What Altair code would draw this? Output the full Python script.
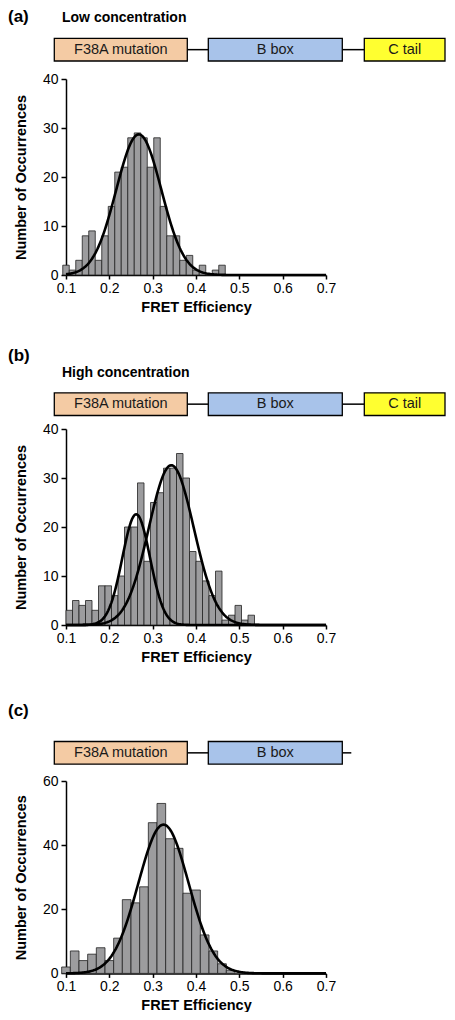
import altair as alt
import pandas as pd

# ---------------- data ----------------
# histogram bin centres and counts
a_centers = [0.100, 0.115, 0.130, 0.145, 0.160, 0.175, 0.190, 0.205, 0.220, 0.235,
             0.250, 0.265, 0.280, 0.295, 0.310, 0.325, 0.340, 0.355, 0.370, 0.385,
             0.400, 0.415, 0.430, 0.445, 0.460]
a_counts = [2, 1, 3, 8, 9, 3, 8, 14, 21, 22, 28, 29, 28, 22, 28, 14, 8, 8, 3, 4, 1, 2, 0, 1, 2]
a_bin_width = 0.015

b_centers = [0.1075, 0.1225, 0.1375, 0.1525, 0.1675, 0.1825, 0.1975, 0.2125, 0.2275, 0.2425,
             0.2575, 0.2725, 0.2875, 0.3025, 0.3175, 0.3325, 0.3475, 0.3625, 0.3775, 0.3925,
             0.4075, 0.4225, 0.4375, 0.4525, 0.4675, 0.4825, 0.4975, 0.5125, 0.5275]
b_counts = [3, 5, 4, 5, 3, 8, 8, 6, 10, 20, 20, 29, 13, 25, 27, 32, 32, 35, 30, 15,
            13, 9, 6, 11, 1, 2, 4, 1, 2]
b_bin_width = 0.015

c_centers = [0.10, 0.12, 0.14, 0.16, 0.18, 0.20, 0.22, 0.24, 0.26, 0.28,
             0.30, 0.32, 0.34, 0.36, 0.38, 0.40, 0.42, 0.44, 0.46, 0.48]
c_counts = [2, 7, 4, 6, 8, 4, 11, 23, 22, 27, 47, 53, 42, 39, 25, 26, 12, 7, 3, 1]
c_bin_width = 0.02

# Gaussian fits drawn over the histograms: (amplitude, mean, standard deviation)
a_fits = [(28.7, 0.268, 0.052)]
b_fits = [(22.6, 0.262, 0.032), (32.6, 0.343, 0.052)]
c_fits = [(46.4, 0.325, 0.058)]

x_ticks = [0.1, 0.2, 0.3, 0.4, 0.5, 0.6, 0.7]
ab_y_ticks = [0, 10, 20, 30, 40]
c_y_ticks = [0, 20, 40, 60]

# protein domain schematic (schematic map units)
domain_names = ["F38A mutation", "B box", "C tail"]
domain_colors = ["#F4CBA4", "#A8C3EA", "#FFFF30"]
domain_start = [-11.7, 142.3, 298.3]
domain_end = [121.3, 276.3, 379.0]
c_tail_end = 285.3

panel_letters = ["(a)", "(b)", "(c)"]
panel_subtitles = ["Low concentration", "High concentration", ""]

# ---------------- layout ----------------
FONT = "Liberation Sans"
PLOT_W = 260
DIAG_W = 380

axis_common = dict(
    domainColor="black", domainWidth=1.5, tickColor="black", tickWidth=1.5,
    labelFontSize=14, labelColor="black", labelFont=FONT,
    titleFontSize=14.5, titleFontWeight="bold", titleColor="black", titleFont=FONT,
    grid=False, labelOverlap=False, labelFlush=False,
)


def hist_chart(centers, counts, bw, fits, y_ticks, height):
    df = pd.DataFrame({"center": centers, "count": counts})
    xs = alt.Scale(domain=[0.1, 0.7], nice=False, zero=False)
    ys = alt.Scale(domain=[0, y_ticks[-1]], nice=False)
    xa = alt.Axis(values=x_ticks, format=".1f", title="FRET Efficiency", tickSize=4,
                  labelPadding=2, titlePadding=5, **axis_common)
    ya = alt.Axis(values=y_ticks, title="Number of Occurrences", tickSize=5,
                  labelPadding=3, titlePadding=14, **axis_common)
    bars = (
        alt.Chart(df)
        .transform_calculate(lo=f"datum.center - {bw / 2}", hi=f"datum.center + {bw / 2}")
        .mark_rect(fill="#9c9c9e", stroke="#222222", strokeWidth=0.8)
        .encode(
            x=alt.X("lo:Q", scale=xs, axis=xa),
            x2="hi:Q",
            y=alt.Y("count:Q", scale=ys, axis=ya),
            y2=alt.Y2Datum(0),
        )
    )
    layers = [bars]
    for amp, mu, sd in fits:
        curve = (
            alt.Chart(alt.sequence(0.1, 0.7005, 0.0025, as_="x"))
            .transform_calculate(y=f"{amp} * exp(-pow(datum.x - {mu}, 2) / (2 * {sd} * {sd}))")
            .mark_line(color="black", strokeWidth=2.6)
            .encode(x=alt.X("x:Q", scale=xs, axis=xa), y=alt.Y("y:Q", scale=ys, axis=ya))
        )
        layers.append(curve)
    return alt.layer(*layers).properties(width=PLOT_W, height=height)


def diag_chart(letter, subtitle, n_domains, tail_end, cell_h, box_top, box_bot,
               letter_y, subtitle_y):
    xs = alt.Scale(domain=[0, DIAG_W], nice=False, zero=False)
    ys = alt.Scale(domain=[0, 1], range=[box_bot, box_top], nice=False, zero=False)
    dom = pd.DataFrame({
        "name": domain_names[:n_domains],
        "start": domain_start[:n_domains],
        "end": domain_end[:n_domains],
        "color": domain_colors[:n_domains],
    })
    link_start = domain_end[: n_domains - 1]
    link_end = domain_start[1:n_domains]
    if tail_end is not None:
        link_start = link_start + [domain_end[n_domains - 1]]
        link_end = link_end + [tail_end]
    links = pd.DataFrame({"s": link_start, "e": link_end})

    link_rules = alt.Chart(links).mark_rule(color="black", strokeWidth=1.5).encode(
        x=alt.X("s:Q", scale=xs, axis=None), x2="e:Q",
        y=alt.YDatum(0.5, scale=ys, axis=None),
    )
    boxes = alt.Chart(dom).mark_rect(stroke="black", strokeWidth=1.3).encode(
        x=alt.X("start:Q", scale=xs, axis=None), x2="end:Q",
        y=alt.YDatum(0, scale=ys, axis=None), y2=alt.Y2Datum(1),
        fill=alt.Color("color:N", scale=None),
    )
    labels = (
        alt.Chart(dom)
        .transform_calculate(mid="(datum.start + datum.end) / 2")
        .mark_text(font=FONT, fontSize=14.5, color="#1a1a1a", baseline="middle", align="center")
        .encode(x=alt.X("mid:Q", scale=xs, axis=None), y=alt.YDatum(0.5, scale=ys, axis=None),
                text="name:N")
    )
    letter_txt = alt.Chart(pd.DataFrame({"t": [letter]})).mark_text(
        font=FONT, fontSize=17, fontWeight="bold", color="black", align="left",
        baseline="alphabetic",
    ).encode(x=alt.XDatum(-58, scale=xs, axis=None),
             y=alt.YDatum(letter_y, scale=ys, axis=None), text="t:N")
    layers = [link_rules, boxes, labels, letter_txt]
    if subtitle:
        sub_txt = alt.Chart(pd.DataFrame({"t": [subtitle]})).mark_text(
            font=FONT, fontSize=14, fontWeight="bold", color="black", align="left",
            baseline="alphabetic",
        ).encode(x=alt.XDatum(-4, scale=xs, axis=None),
                 y=alt.YDatum(subtitle_y, scale=ys, axis=None), text="t:N")
        layers.append(sub_txt)
    return alt.layer(*layers).properties(width=DIAG_W, height=cell_h)


diag_a = diag_chart(panel_letters[0], panel_subtitles[0], 3, None,
                    cell_h=69.7, box_top=29.3, box_bot=52.0, letter_y=1.7, subtitle_y=1.7)
hist_a = hist_chart(a_centers, a_counts, a_bin_width, a_fits, ab_y_ticks, 196)

diag_b = diag_chart(panel_letters[1], panel_subtitles[1], 3, None,
                    cell_h=153.6, box_top=117.8, box_bot=140.5, letter_y=2.41, subtitle_y=1.7)
hist_b = hist_chart(b_centers, b_counts, b_bin_width, b_fits, ab_y_ticks, 196)

diag_c = diag_chart(panel_letters[2], panel_subtitles[2], 2, c_tail_end,
                    cell_h=156.0, box_top=116.5, box_bot=139.2, letter_y=2.13, subtitle_y=1.7)
hist_c = hist_chart(c_centers, c_counts, c_bin_width, c_fits, c_y_ticks, 192.4)

chart = (
    alt.vconcat(diag_a, hist_a, diag_b, hist_b, diag_c, hist_c, spacing=0, bounds="flush")
    .properties(padding=0, background="white")
    .configure(font=FONT)
    .configure_view(stroke=None)
)

chart.save("out.html", embed_options={"renderer": "svg", "actions": False})
